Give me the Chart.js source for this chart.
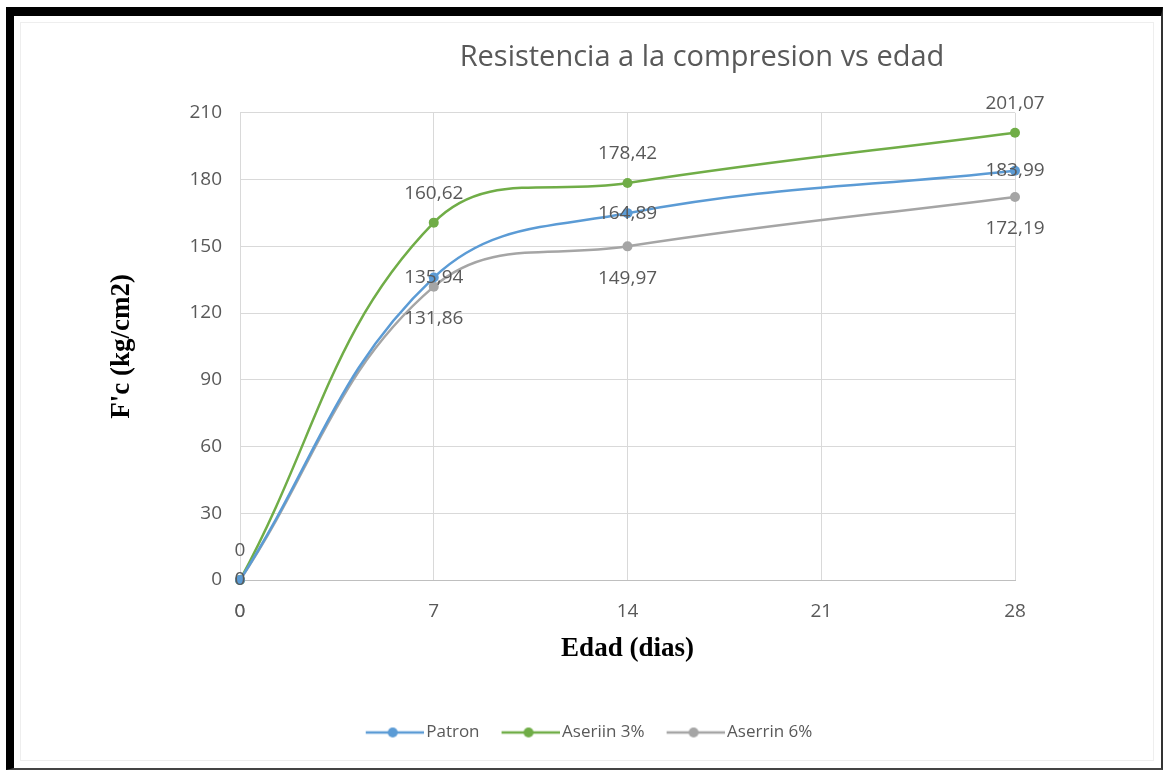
<!DOCTYPE html>
<html>
<head>
<meta charset="utf-8">
<script src="https://cdn.jsdelivr.net/npm/chart.js@4.4.0/dist/chart.umd.min.js"></script>
<style>
html, body { margin: 0; padding: 0; background: #fff; }
body { width: 1164px; height: 771px; position: relative; overflow: hidden; }
#frame { position: absolute; left: 6px; top: 7px; right: 1px; bottom: 1px; box-sizing: border-box;
  border-left: 8px solid #000; border-top: 9px solid #000; border-right: 2px solid #333; border-bottom: 2px solid #444; }
#inner { position: absolute; left: 20px; top: 22px; width: 1134px; height: 739px; box-sizing: border-box; border: 1px solid #eee; }
#wrap { position: absolute; left: 0; top: 0; width: 1164px; height: 771px; }
</style>
</head>
<body>
<div id="frame"></div>
<div id="inner"></div>
<div id="wrap"><canvas id="chart"></canvas></div>
<script>
var dias = [0, 7, 14, 28];
var patron = [0, 135.94, 164.89, 183.99];
var aserrin3 = [0, 160.62, 178.42, 201.07];
var aserrin6 = [0, 131.86, 149.97, 172.19];
var series = ['Patron', 'Aseriin 3%', 'Aserrin 6%'];
var colores = ['#5B9BD5', '#70AD47', '#A5A5A5'];

var ctx = document.getElementById('chart').getContext('2d');
ctx.canvas.width = 1164;
ctx.canvas.height = 771;

Chart.defaults.font.family = '"Open Sans", sans-serif';
Chart.defaults.color = '#595959';

function puntos(vals) {
    return vals.map((v, i) => { return { x: dias[i], y: v } });
}

// line + dot legend marker, like the excel one
function marcador(color) {
    var c = document.createElement('canvas');
    c.width = 62;
    c.height = 12;
    var g = c.getContext('2d');
    g.strokeStyle = color;
    g.lineWidth = 2.5;
    g.beginPath();
    g.moveTo(4, 6);
    g.lineTo(62, 6);
    g.stroke();
    g.fillStyle = color;
    g.beginPath();
    g.arc(31, 6, 5, 0, Math.PI * 2);
    g.fill();
    return c;
}
var marcadores = colores.map(marcador);

// value labels (no datalabels plugin available)
var etiquetas = {
    id: 'etiquetas',
    afterDatasetsDraw: function(chart) {
        var c = chart.ctx;
        c.save();
        c.font = '19px "Open Sans"';
        c.fillStyle = '#595959';
        c.textAlign = 'center';
        c.textBaseline = 'middle';
        chart.data.datasets.forEach(function(ds, i) {
            var meta = chart.getDatasetMeta(i);
            meta.data.forEach(function(pt, j) {
                var v = ds.data[j].y;
                var dy = 0;
                if (ds.labelPos === 'top') dy = -29;
                if (ds.labelPos === 'bottom') dy = 32;
                c.fillText(String(v).replace('.', ','), pt.x, pt.y + dy);
            });
        });
        c.restore();
    }
};

// move title and legend off the canvas centre
var ajuste = {
    id: 'ajuste',
    afterLayout: function(chart) {
        var t = chart.titleBlock;
        var s = 702 - (t.left + t.right) / 2;
        t.left += s; t.right += s;
        var l = chart.legend;
        s = 590 - (l.left + l.right) / 2;
        l.left += s; l.right += s;
    }
};

var chart = new Chart(ctx, {
    type: 'line',
    data: {
        datasets: [
            { label: series[0], data: puntos(patron), labelPos: 'center' },
            { label: series[1], data: puntos(aserrin3), labelPos: 'top' },
            { label: series[2], data: puntos(aserrin6), labelPos: 'bottom' }
        ].map((d, i) => Object.assign(d, {
            borderColor: colores[i],
            backgroundColor: colores[i],
            borderWidth: 2.5,
            pointRadius: 5,
            pointBorderWidth: 0,
            pointHoverRadius: 5,
            tension: 0.4,
            clip: false
        }))
    },
    options: {
        responsive: false,
        animation: false,
        layout: { padding: { left: 14, right: 149, top: 14, bottom: 20 } },
        plugins: {
            title: {
                display: true,
                text: 'Resistencia a la compresion vs edad',
                color: '#595959',
                font: { size: 29, weight: 'normal' },
                padding: { top: 26, bottom: 38 }
            },
            legend: {
                position: 'bottom',
                labels: {
                    usePointStyle: true,
                    pointStyleWidth: 50,
                    padding: 24,
                    color: '#595959',
                    font: { size: 17 },
                    generateLabels: function(chart) {
                        var items = Chart.defaults.plugins.legend.labels.generateLabels(chart);
                        items.forEach((it, i) => { it.pointStyle = marcadores[i]; });
                        return items;
                    }
                }
            },
            tooltip: { enabled: false }
        },
        scales: {
            x: {
                type: 'linear',
                min: 0,
                max: 28,
                ticks: { stepSize: 7, padding: 20, font: { size: 19 }, color: '#595959' },
                grid: { color: '#D9D9D9', drawTicks: false },
                border: { color: '#BFBFBF' },
                title: {
                    display: true,
                    text: 'Edad (dias)',
                    color: '#000',
                    font: { family: '"Liberation Serif", serif', size: 27, weight: 'bold' },
                    padding: { top: 0, bottom: 35 }
                },
                afterFit: function(scale) { scale.height = 120; }
            },
            y: {
                min: 0,
                max: 210,
                ticks: { stepSize: 30, padding: 18, font: { size: 19 }, color: '#595959' },
                grid: { color: '#D9D9D9', drawTicks: false },
                border: { color: '#D9D9D9' },
                title: {
                    display: true,
                    text: "F'c (kg/cm2)",
                    color: '#000',
                    font: { family: '"Liberation Serif", serif', size: 27, weight: 'bold' },
                    padding: { top: 92, bottom: 0 }
                },
                afterFit: function(scale) { scale.width = 226; }
            }
        }
    },
    plugins: [etiquetas, ajuste]
});
</script>
</body>
</html>
